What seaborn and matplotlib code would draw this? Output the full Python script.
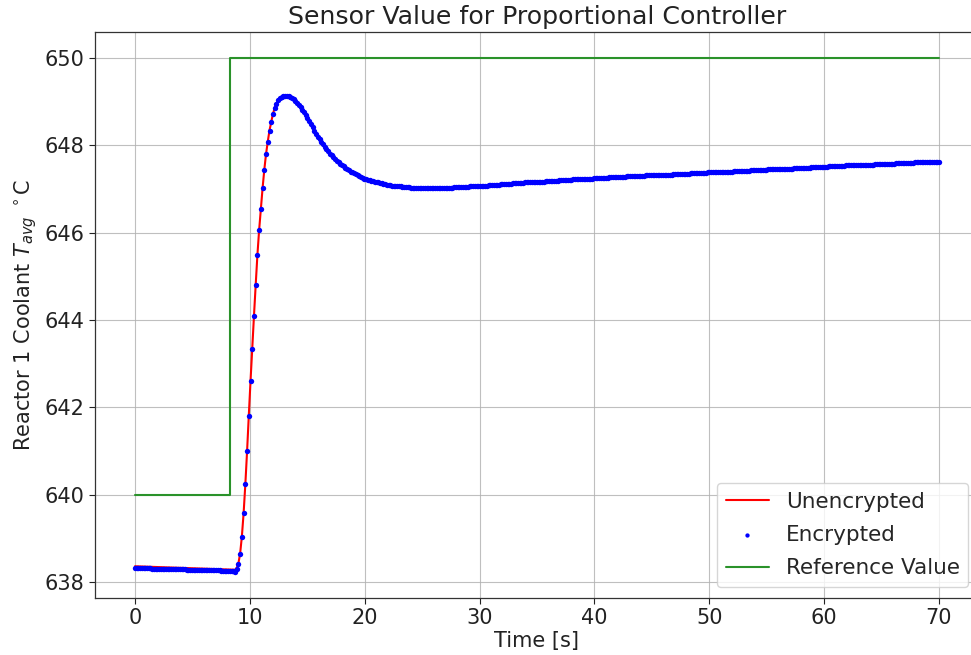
import numpy as np
import pandas as pd
import matplotlib
matplotlib.use("Agg")
import matplotlib.pyplot as plt
import seaborn as sns

# ---------------- data ----------------
t_start, t_end = 0.0, 70.0

encrypted_values = [
    638.31, 638.31, 638.31, 638.31, 638.31, 638.31, 638.31, 638.31, 638.31, 638.31,
    638.30, 638.30, 638.30, 638.30, 638.30, 638.30, 638.30, 638.30, 638.30, 638.30,
    638.29, 638.29, 638.29, 638.29, 638.29, 638.29, 638.29, 638.29, 638.29, 638.29,
    638.28, 638.28, 638.28, 638.28, 638.28, 638.28, 638.28, 638.28, 638.28, 638.28,
    638.27, 638.27, 638.27, 638.27, 638.27, 638.27, 638.27, 638.27, 638.27, 638.27,
    638.26, 638.26, 638.26, 638.26, 638.26, 638.25, 638.25, 638.25, 638.23, 638.30,
    638.42, 638.65, 639.04, 639.58, 640.24, 640.99, 641.81, 642.60, 643.34, 644.09,
    644.80, 645.49, 646.06, 646.54, 647.02, 647.44, 647.80, 648.08, 648.34, 648.53,
    648.72, 648.85, 648.95, 649.03, 649.08, 649.11, 649.13, 649.14, 649.14, 649.13,
    649.11, 649.09, 649.06, 649.02, 648.98, 648.93, 648.88, 648.82, 648.76, 648.69,
    648.62, 648.55, 648.48, 648.41, 648.34, 648.27, 648.20, 648.14, 648.08, 648.02,
    647.96, 647.91, 647.86, 647.81, 647.77, 647.73, 647.69, 647.65, 647.61, 647.58,
    647.55, 647.52, 647.49, 647.46, 647.43, 647.40, 647.38, 647.36, 647.34, 647.32,
    647.30, 647.28, 647.26, 647.24, 647.23, 647.21, 647.20, 647.19, 647.18, 647.17,
    647.16, 647.15, 647.14, 647.13, 647.12, 647.11, 647.10, 647.10, 647.09, 647.08,
    647.08, 647.07, 647.07, 647.06, 647.06, 647.05, 647.05, 647.04, 647.04, 647.04,
    647.03, 647.03, 647.03, 647.03, 647.02, 647.02, 647.02, 647.02, 647.02, 647.02,
    647.02, 647.02, 647.02, 647.02, 647.02, 647.02, 647.02, 647.02, 647.02, 647.02,
    647.03, 647.03, 647.03, 647.03, 647.03, 647.04, 647.04, 647.04, 647.04, 647.04,
    647.05, 647.05, 647.05, 647.05, 647.06, 647.06, 647.06, 647.06, 647.07, 647.07,
    647.07, 647.08, 647.08, 647.08, 647.08, 647.09, 647.09, 647.09, 647.10, 647.10,
    647.10, 647.10, 647.11, 647.11, 647.11, 647.12, 647.12, 647.12, 647.12, 647.13,
    647.13, 647.13, 647.13, 647.14, 647.14, 647.14, 647.15, 647.15, 647.15, 647.15,
    647.15, 647.16, 647.16, 647.16, 647.17, 647.17, 647.17, 647.17, 647.18, 647.18,
    647.18, 647.18, 647.19, 647.19, 647.19, 647.19, 647.20, 647.20, 647.20, 647.20,
    647.21, 647.21, 647.21, 647.21, 647.22, 647.22, 647.22, 647.22, 647.23, 647.23,
    647.23, 647.23, 647.24, 647.24, 647.24, 647.24, 647.25, 647.25, 647.25, 647.25,
    647.26, 647.26, 647.26, 647.26, 647.26, 647.27, 647.27, 647.27, 647.27, 647.27,
    647.28, 647.28, 647.28, 647.28, 647.28, 647.29, 647.29, 647.29, 647.29, 647.29,
    647.30, 647.30, 647.30, 647.30, 647.30, 647.30, 647.31, 647.31, 647.31, 647.31,
    647.31, 647.31, 647.32, 647.32, 647.32, 647.32, 647.32, 647.33, 647.33, 647.33,
    647.33, 647.33, 647.34, 647.34, 647.34, 647.34, 647.34, 647.35, 647.35, 647.35,
    647.35, 647.35, 647.36, 647.36, 647.36, 647.36, 647.36, 647.37, 647.37, 647.37,
    647.37, 647.37, 647.38, 647.38, 647.38, 647.38, 647.38, 647.39, 647.39, 647.39,
    647.39, 647.39, 647.40, 647.40, 647.40, 647.40, 647.40, 647.41, 647.41, 647.41,
    647.41, 647.41, 647.42, 647.42, 647.42, 647.42, 647.42, 647.43, 647.43, 647.43,
    647.43, 647.43, 647.44, 647.44, 647.44, 647.44, 647.44, 647.45, 647.45, 647.45,
    647.45, 647.45, 647.46, 647.46, 647.46, 647.46, 647.46, 647.47, 647.47, 647.47,
    647.47, 647.47, 647.48, 647.48, 647.48, 647.48, 647.48, 647.49, 647.49, 647.49,
    647.49, 647.49, 647.50, 647.50, 647.50, 647.50, 647.50, 647.51, 647.51, 647.51,
    647.51, 647.51, 647.52, 647.52, 647.52, 647.52, 647.52, 647.53, 647.53, 647.53,
    647.53, 647.53, 647.54, 647.54, 647.54, 647.54, 647.54, 647.55, 647.55, 647.55,
    647.55, 647.55, 647.55, 647.56, 647.56, 647.56, 647.56, 647.56, 647.56, 647.57,
    647.57, 647.57, 647.57, 647.57, 647.57, 647.58, 647.58, 647.58, 647.58, 647.58,
    647.58, 647.59, 647.59, 647.59, 647.59, 647.59, 647.60, 647.60, 647.60, 647.60,
    647.60, 647.60, 647.61, 647.61, 647.61, 647.61, 647.61, 647.62, 647.62, 647.62,
    647.62, 647.62, 647.62, 647.63, 647.63, 647.63, 647.63,
]
encrypted_time = np.linspace(t_start, t_end, len(encrypted_values))

unencrypted_time = [
    0.0, 8.70, 8.86, 9.01, 9.16, 9.31, 9.46, 9.61, 9.76, 9.91,
    10.06, 10.21, 10.36, 10.51, 10.66, 10.81, 10.96, 11.11, 11.26, 11.41,
    11.56, 11.71, 11.86, 12.01, 12.16, 12.31, 12.61, 12.91, 13.21, 13.51,
    14.0, 14.5, 15.0, 15.5, 16.0, 16.5, 17.0, 17.5, 18.0, 19.0,
    20.0, 21.0, 22.0, 23.0, 24.0, 25.0, 27.0, 30.0, 35.0, 40.0,
    45.0, 50.0, 55.0, 60.0, 65.0, 70.0,
]
unencrypted_values = [
    638.36, 638.28, 638.32, 638.43, 638.66, 639.05, 639.58, 640.24, 640.99, 641.81,
    642.60, 643.34, 644.09, 644.80, 645.49, 646.06, 646.54, 647.02, 647.44, 647.80,
    648.08, 648.34, 648.53, 648.72, 648.85, 648.95, 649.08, 649.13, 649.14, 649.11,
    649.00, 648.84, 648.63, 648.39, 648.16, 647.96, 647.79, 647.65, 647.55, 647.37,
    647.24, 647.15, 647.09, 647.05, 647.03, 647.02, 647.03, 647.075, 647.16, 647.245,
    647.31, 647.38, 647.445, 647.51, 647.57, 647.63,
]

reference_time = [0.0, 8.3, 8.3, 70.0]
reference_values = [640.0, 640.0, 650.0, 650.0]

# ---------------- style ----------------
sns.set_theme(style="ticks")
plt.rcParams["font.family"] = ["DejaVu Sans"]
plt.rcParams["font.size"] = 15
plt.rcParams["mathtext.fontset"] = "dejavusans"

fig = plt.figure(figsize=(9.71, 6.55), dpi=100)
ax = fig.add_axes([0.0976, 0.0875, 0.9108, 0.8632])

df_un = pd.DataFrame({"t": unencrypted_time, "v": unencrypted_values})
df_en = pd.DataFrame({"t": encrypted_time, "v": encrypted_values})
df_ref = pd.DataFrame({"t": reference_time, "v": reference_values})

sns.lineplot(data=df_un, x="t", y="v", ax=ax, color="#ff0000", linewidth=1.5,
             estimator=None, sort=False, label="Unencrypted")
sns.scatterplot(data=df_en, x="t", y="v", ax=ax, color="#0000ff", s=15,
                linewidth=0, label="Encrypted", zorder=3)
sns.lineplot(data=df_ref, x="t", y="v", ax=ax, color="#2a922a", linewidth=1.5,
             estimator=None, sort=False, label="Reference Value")

ax.set_xlim(-3.5, 73.5)
ax.set_ylim(637.64, 650.59)
ax.set_xticks([0, 10, 20, 30, 40, 50, 60, 70])
ax.set_yticks([638, 640, 642, 644, 646, 648, 650])
ax.grid(True, color="#b0b0b0", linewidth=0.8, alpha=0.8)
ax.tick_params(labelsize=15, length=4, width=0.8, colors="#222222", labelcolor="#222222")
for s in ax.spines.values():
    s.set_color("#333333")
    s.set_linewidth(0.9)

ax.set_title("Sensor Value for Proportional Controller", fontsize=18.2, color="#222222")
ax.set_xlabel("Time [s]", fontsize=15, color="#222222", labelpad=2)
ax.set_ylabel(r"Reactor 1 Coolant $T_{avg}$ $^\circ$C", fontsize=15, color="#222222")

leg = ax.legend(loc="lower right", fontsize=15.5, frameon=True, markerscale=0.8,
                labelspacing=0.62)
leg.get_frame().set_edgecolor("#cccccc")

fig.savefig("out.png", dpi=100)
